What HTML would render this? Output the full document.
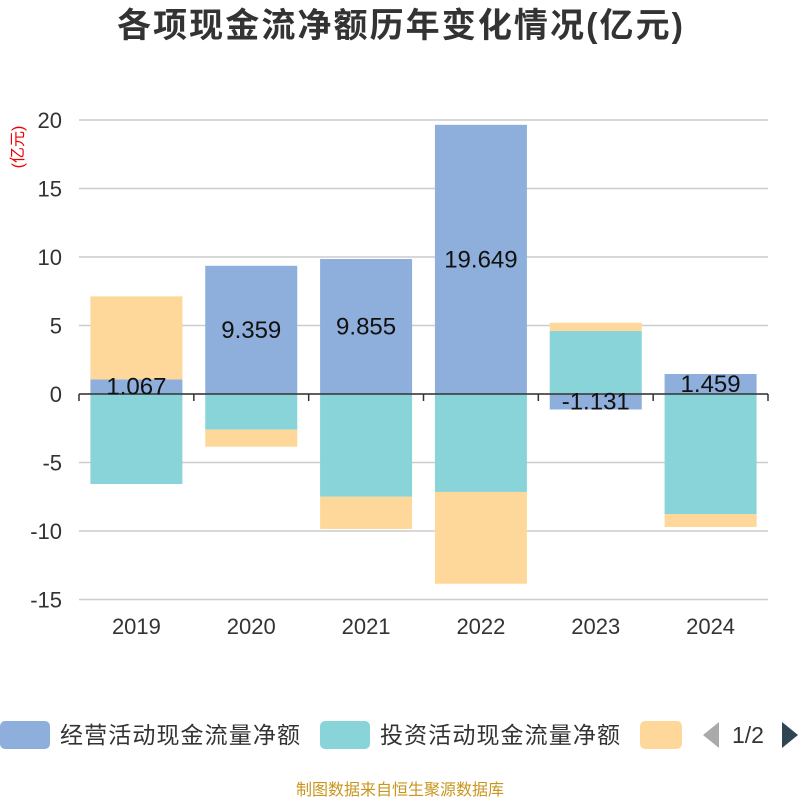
<!DOCTYPE html>
<html><head><meta charset="utf-8"><style>
body{margin:0;background:#fff;width:800px;height:800px;overflow:hidden;font-family:"Liberation Sans","Noto Sans CJK SC",sans-serif}
</style></head><body>
<svg id="c" width="800" height="800" xmlns="http://www.w3.org/2000/svg">
<text x="400" y="37" text-anchor="middle" font-size="34" font-weight="bold" fill="#333" textLength="566" font-family="Liberation Sans,Noto Sans CJK SC,sans-serif">各项现金流净额历年变化情况(亿元)</text>
<text transform="translate(23,147) rotate(-90)" text-anchor="middle" font-size="16" fill="#e00" font-family="Liberation Sans,Noto Sans CJK SC,sans-serif">(亿元)</text>
<g id="grid"></g><g id="bars"></g><g id="axis"></g><g id="labels"></g>
<g font-family="Liberation Sans,Noto Sans CJK SC,sans-serif" font-size="23" fill="#333">
<rect x="0" y="721" width="50" height="28" rx="5" fill="#8eaedb"/>
<text x="60" y="743" textLength="240">经营活动现金流量净额</text>
<rect x="320" y="721" width="50" height="28" rx="5" fill="#88d4d8"/>
<text x="380" y="743" textLength="240">投资活动现金流量净额</text>
<rect x="640" y="721" width="42" height="28" rx="5" fill="#fed89a"/>
<polygon points="719,722 719,748 703,735" fill="#aaa"/>
<text x="732" y="743">1/2</text>
<polygon points="782,722 782,748 798,735" fill="#2f4554"/>
</g>
<text x="400" y="795" text-anchor="middle" font-size="16" fill="#c8961e" font-family="Liberation Sans,Noto Sans CJK SC,sans-serif">制图数据来自恒生聚源数据库</text>
</svg>
<script>
const categories=["2019","2020","2021","2022","2023","2024"];
const operating=[1.067,9.359,9.855,19.649,-1.131,1.459];
const investing=[-6.57,-2.6,-7.5,-7.15,4.6,-8.76];
const financing=[6.06,-1.25,-2.35,-6.7,0.6,-0.95];
const yTicks=[20,15,10,5,0,-5,-10,-15];
const NS="http://www.w3.org/2000/svg";
const x0=79,x1=768,cw=(x1-x0)/categories.length;
function y(v){return 394-v*13.7;}
function xc(i){return x0+cw*(i+0.5);}
function mk(t,a,p){const e=document.createElementNS(NS,t);for(const k in a)e.setAttribute(k,a[k]);document.getElementById(p).appendChild(e);return e;}
yTicks.forEach(t=>{
 const l=mk('line',{x1:x0,x2:x1,y1:y(t),y2:y(t),stroke:'#ccc','stroke-width':1.5},'grid');
 
 
 const tx=mk('text',{x:62,y:y(t)+8,'text-anchor':'end','font-size':22,fill:'#333'},'axis');
 tx.textContent=t;
 
 
});
const bw=92;
categories.forEach((c,i)=>{
 let pos=0,neg=0;
 [[operating,'#8eaedb','operating'],[investing,'#88d4d8','investing'],[financing,'#fed89a','financing']].forEach(([arr,col,nm])=>{
  const v=arr[i];let a,b;
  if(v>=0){a=pos;b=pos+v;pos=b;}else{a=neg;b=neg+v;neg=b;}
  const r=mk('rect',{x:xc(i)-bw/2,y:Math.min(y(a),y(b)),width:bw,height:Math.abs(y(a)-y(b)),fill:col},'bars');
  
  
  if(nm==='operating'){
   const t=mk('text',{x:xc(i),y:(y(a)+y(b))/2+8,'text-anchor':'middle','font-size':24,fill:'#111'},'labels');
   t.textContent=v.toFixed(3);
   
   
  }
 });
 const tx=mk('text',{x:xc(i),y:634,'text-anchor':'middle','font-size':22,fill:'#333'},'axis');
 tx.textContent=c;
 
 
});
const ax=mk('line',{x1:x0,x2:x1,y1:y(0),y2:y(0),stroke:'#333','stroke-width':1.5},'axis');


for(let i=0;i<=categories.length;i++){
 const t=mk('line',{x1:x0+cw*i,x2:x0+cw*i,y1:y(0),y2:y(0)+7,stroke:'#333','stroke-width':1.5},'axis');
 
 
}
</script>
</body></html>
